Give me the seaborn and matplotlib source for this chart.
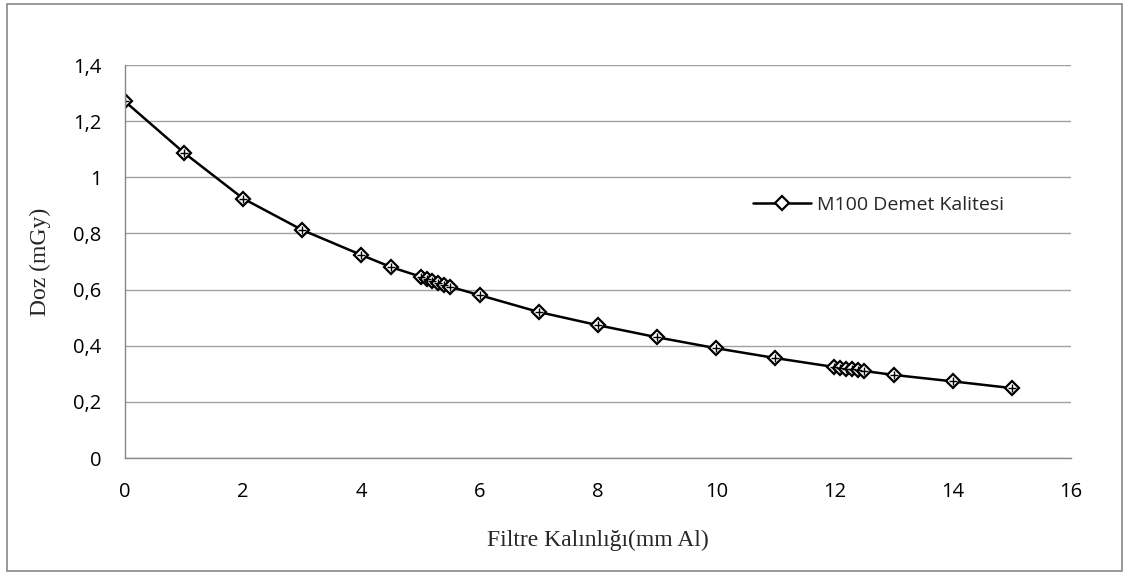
import matplotlib
matplotlib.use("Agg")
import matplotlib.pyplot as plt
import seaborn as sns
import pandas as pd
from matplotlib.ticker import MultipleLocator, FuncFormatter
from matplotlib.patches import Rectangle
from matplotlib.lines import Line2D

thickness = [0, 1, 2, 3, 4, 4.5, 5, 5.1, 5.2, 5.3, 5.4, 5.5, 6, 7, 8, 9, 10, 11,
             12, 12.1, 12.2, 12.3, 12.4, 12.5, 13, 14, 15]
dose = [1.270, 1.087, 0.924, 0.812, 0.723, 0.680, 0.646, 0.639, 0.632, 0.625, 0.618, 0.610,
        0.580, 0.520, 0.473, 0.430, 0.391, 0.356, 0.324, 0.321, 0.318, 0.316, 0.313, 0.310,
        0.296, 0.273, 0.249]
series_name = "M100 Demet Kalitesi"
x_label = "Filtre Kalınlığı(mm Al)"
y_label = "Doz (mGy)"

df = pd.DataFrame({"x": thickness, "y": dose})

sns.set_style("white")
plt.rcParams["font.family"] = ["Open Sans", "DejaVu Sans"]

fig = plt.figure(figsize=(11.3, 5.78), dpi=100)
W, H = 1130, 578
ax = fig.add_axes([125 / W, 1 - 458 / H, (1071 - 125) / W, (458 - 65) / H])

sns.lineplot(data=df, x="x", y="y", ax=ax, sort=False, color="black", linewidth=1.8,
             marker="D", markersize=7, markerfacecolor="white", markeredgecolor="black",
             markeredgewidth=1.6, legend=False)
ax.plot(df["x"], df["y"], linestyle="none", marker="+", markersize=6, color="black",
        markeredgewidth=1.0)

ax.set_xlim(0, 16)
ax.set_ylim(0, 1.4)
ax.xaxis.set_major_locator(MultipleLocator(2))
ax.xaxis.set_minor_locator(MultipleLocator(0.5))
ax.yaxis.set_major_locator(MultipleLocator(0.2))
ax.yaxis.set_minor_locator(MultipleLocator(0.1))

def fmt(v, pos):
    s = f"{v:.1f}".rstrip("0").rstrip(".")
    return s.replace(".", ",")

ax.yaxis.set_major_formatter(FuncFormatter(fmt))
ax.xaxis.set_major_formatter(FuncFormatter(lambda v, p: f"{int(round(v))}"))

ax.grid(axis="y", which="major", color="#a0a0a0", linewidth=1.0)
ax.grid(axis="x", visible=False)
for s in ["top", "right"]:
    ax.spines[s].set_visible(False)
for s in ["left", "bottom"]:
    ax.spines[s].set_color("#888888")
    ax.spines[s].set_linewidth(1.0)

ax.tick_params(axis="both", which="major", direction="inout", length=10, color="#888888",
               width=1.0, labelsize=14.5, labelcolor="black")
ax.tick_params(axis="both", which="minor", direction="in", length=5, color="#888888", width=1.0)
ax.tick_params(axis="x", which="major", pad=12)
ax.tick_params(axis="y", which="major", pad=12)

ax.set_xlabel(x_label, fontsize=17, family=["Liberation Serif", "DejaVu Serif"], labelpad=20)
ax.set_ylabel(y_label, fontsize=17, family=["Liberation Serif", "DejaVu Serif"], labelpad=16)

handle = Line2D([], [], color="black", linewidth=1.8, marker="D", markersize=7,
                markerfacecolor="white", markeredgecolor="black", markeredgewidth=1.6)
fig.legend([handle], [series_name], loc="center left", bbox_to_anchor=(735 / W, 1 - 205 / H),
           frameon=False, fontsize=14, handlelength=3.0, handletextpad=0.3)

fig.patches.append(Rectangle((7 / W, 1 - 571 / H), (1122 - 7) / W, (571 - 4) / H,
                             transform=fig.transFigure, fill=False, edgecolor="#888888",
                             linewidth=1.2))

fig.savefig("out.png", dpi=100)
